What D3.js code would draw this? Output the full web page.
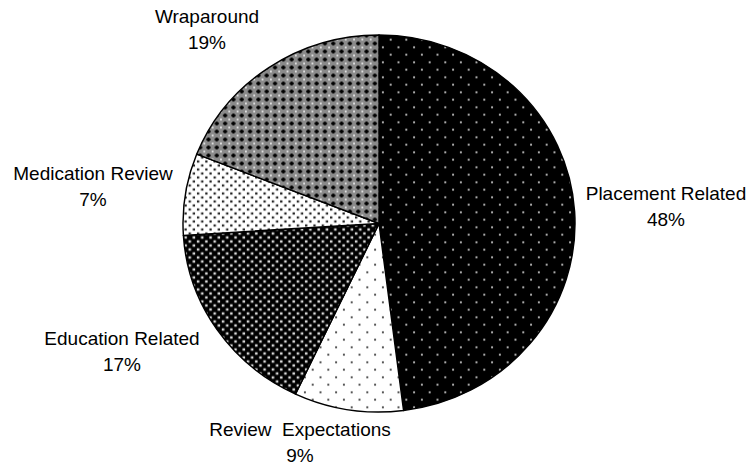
<!DOCTYPE html>
<html>
<head>
<meta charset="utf-8">
<script src="https://cdn.jsdelivr.net/npm/d3@7"></script>
<style>
  html, body { margin: 0; padding: 0; background: #fff; }
  svg { display: block; }
  text { font-family: "Liberation Sans", Arial, sans-serif; font-size: 19px; fill: #000; }
</style>
</head>
<body>
<svg id="chart" width="750" height="466"></svg>
<script>
// Share of requests by category (percent), clockwise from 12 o'clock
const categories = ["Placement Related", "Review  Expectations", "Education Related", "Medication Review", "Wraparound"];
const shares = [48, 9, 17, 7, 19];
const fills = ["dotsSparseDark", "dotsSparseLight", "dotsDenseDark", "dotsDenseLight", "crossHatch"];

// Label placement: centre x and first-line baseline y
const labelX = [666, 300, 122, 93, 207];
const labelY = [200, 436, 345, 180, 23];

const W = 750, H = 466;
const cx = 379, cy = 223.5, rx = 196, ry = 188.5;

const svg = d3.select("#chart");
const defs = svg.append("defs");

// Dotted fills
function dotPattern(id, size, bg, fg, dot) {
  const p = defs.append("pattern").attr("id", id)
    .attr("patternUnits", "userSpaceOnUse").attr("width", size).attr("height", size);
  p.append("rect").attr("width", size).attr("height", size).attr("fill", bg);
  [[size * 0.25, size * 0.25], [size * 0.75, size * 0.75]].forEach(([x, y]) => {
    p.append("rect").attr("x", x - dot / 2).attr("y", y - dot / 2)
      .attr("width", dot).attr("height", dot).attr("fill", fg);
  });
}
dotPattern("dotsSparseDark", 15, "#000", "#fff", 1.6);
dotPattern("dotsSparseLight", 15, "#fff", "#000", 1.6);
dotPattern("dotsDenseDark", 8, "#000", "#ddd", 2.4);
dotPattern("dotsDenseLight", 8, "#fff", "#222", 2.2);

// Grey cross-hatch with light dots
{
  const s = 8;
  const p = defs.append("pattern").attr("id", "crossHatch")
    .attr("patternUnits", "userSpaceOnUse").attr("width", s).attr("height", s);
  p.append("rect").attr("width", s).attr("height", s).attr("fill", "#8a8a8a");
  p.append("rect").attr("x", 2).attr("y", 3).attr("width", 4).attr("height", 2).attr("fill", "#000");
  p.append("rect").attr("x", 3).attr("y", 2).attr("width", 2).attr("height", 4).attr("fill", "#000");
  [[0, 0], [s, 0], [0, s], [s, s]].forEach(([x, y]) => {
    p.append("rect").attr("x", x - 0.8).attr("y", y - 0.8)
      .attr("width", 1.6).attr("height", 1.6).attr("fill", "#fff");
  });
}

const pie = d3.pie().sort(null).value(d => d)(shares);
const arc = d3.arc().innerRadius(0).outerRadius(ry);

const g = svg.append("g")
  .attr("transform", `translate(${cx},${cy}) scale(${rx / ry},1)`);

g.selectAll("path.slice")
  .data(pie)
  .join("path")
  .attr("class", "slice")
  .attr("d", arc)
  .attr("fill", (d, i) => `url(#${fills[i]})`)
  .attr("stroke", "#000")
  .attr("stroke-width", 1.4)
  .attr("stroke-linejoin", "round");

const labels = svg.append("g").selectAll("text")
  .data(pie)
  .join("text")
  .attr("text-anchor", "middle")
  .attr("x", (d, i) => labelX[i])
  .attr("y", (d, i) => labelY[i])
  .style("white-space", "pre");

labels.append("tspan")
  .attr("x", (d, i) => labelX[i])
  .text((d, i) => categories[i]);
labels.append("tspan")
  .attr("x", (d, i) => labelX[i])
  .attr("dy", 26)
  .text(d => `${d.data}%`);
</script>
</body>
</html>
